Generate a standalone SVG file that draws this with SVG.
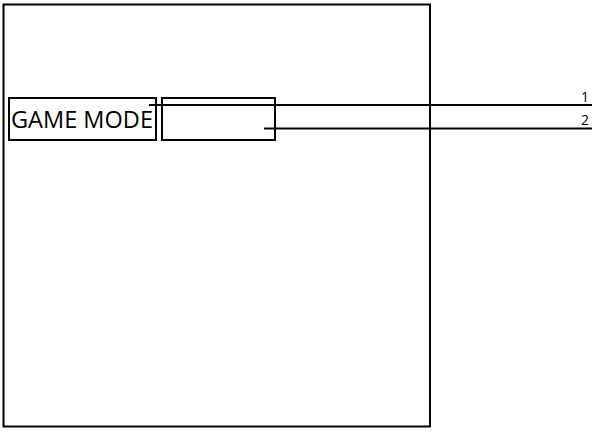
<svg xmlns="http://www.w3.org/2000/svg" width="608" height="433" viewBox="0 0 608 433">
<style>
.box{fill:none;stroke:#000;stroke-width:2}
.ln{stroke:#000;stroke-width:2;fill:none}
.lbl{font-family:"Open Sans","Liberation Sans",sans-serif;fill:#000}
</style>
<rect x="0" y="0" width="608" height="433" fill="#fff"/>
<g id="frame"><rect class="box" x="3.5" y="4.5" width="426.5" height="422"/></g>
<g id="game-mode"><rect class="box" x="9" y="98" width="147" height="42"/><text class="lbl" x="11" y="127.5" font-size="23" textLength="142" lengthAdjust="spacingAndGlyphs">GAME MODE</text></g>
<g id="value-box"><rect class="box" x="162" y="98" width="113" height="42"/></g>
<g id="connectors">
<line class="ln" x1="149" y1="105" x2="592" y2="105"/>
<line class="ln" x1="264" y1="128.5" x2="592" y2="128.5"/>
</g>
<g id="labels">
<text class="lbl" x="589" y="102" font-size="14" text-anchor="end">1</text>
<text class="lbl" x="589" y="125" font-size="14" text-anchor="end">2</text>
</g>
</svg>
